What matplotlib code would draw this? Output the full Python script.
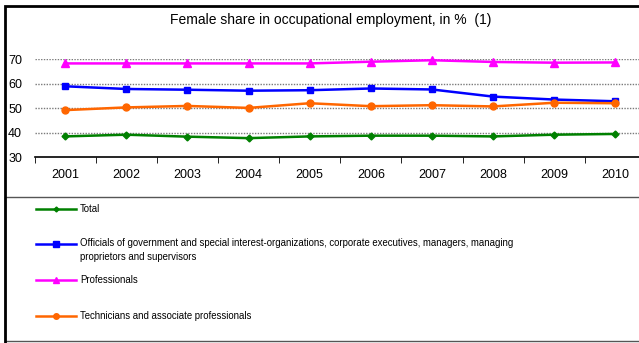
import numpy as np
import matplotlib
matplotlib.use('Agg')
import matplotlib.pyplot as plt
from matplotlib.lines import Line2D
from matplotlib.patches import Rectangle

plt.rcParams['font.family'] = ['Liberation Sans', 'DejaVu Sans']

# data
years = ['2001', '2002', '2003', '2004', '2005', '2006', '2007', '2008', '2009', '2010']
total = [38.5, 39.2, 38.4, 37.8, 38.5, 38.8, 38.8, 38.5, 39.2, 39.5]
officials = [58.9, 57.8, 57.5, 57.1, 57.3, 58.0, 57.6, 54.7, 53.5, 52.8]
professionals = [68.2, 68.2, 68.2, 68.2, 68.2, 68.9, 69.5, 68.8, 68.5, 68.6]
technicians = [49.2, 50.3, 50.9, 50.1, 52.0, 50.8, 51.2, 50.7, 52.2, 52.0]

labels = ['Total',
          'Officials of government and special interest-organizations, corporate executives, managers, managing\nproprietors and supervisors',
          'Professionals',
          'Technicians and associate professionals']
series = [total, officials, professionals, technicians]
colors = ['#008000', '#0000FF', '#FF00FF', '#FF6600']
markers = ['D', 's', '^', 'o']
msizes = [3.5, 5, 5.5, 5]
leg_ms = [2.5, 4, 4, 4]

W, H = 639, 343
fig = plt.figure(figsize=(W/100, H/100), dpi=100)

# plot area in pixel units
x0, x1 = 34.5, 646
ytop, ybot = 59, 157.3
ax = fig.add_axes([x0/W, 1 - ybot/H, (x1 - x0)/W, (ybot - ytop)/H])

x = np.arange(len(years))
for s, c, m, ms in zip(series, colors, markers, msizes):
    ax.plot(x, s, color=c, marker=m, markersize=ms, lw=1.8, clip_on=False, zorder=3)

ax.set_xlim(-0.5, len(years) - 0.5)
ax.set_ylim(30, 70)
ax.set_yticks([30, 40, 50, 60, 70])
ax.set_xticks(x)
ax.set_xticklabels(years)
ax.set_xticks(np.arange(-0.5, len(years)), minor=True)
ax.tick_params(axis='x', which='major', length=0, pad=8.5, labelsize=9)
ax.tick_params(axis='x', which='minor', length=4, direction='out', color='black')
ax.tick_params(axis='y', length=0, pad=9, labelsize=9)
for g in [40, 50, 60, 70]:
    ax.axhline(g, color='#7a7a7a', lw=1, ls=(0, (1, 1)), zorder=1)
for sp in ['left', 'right', 'top']:
    ax.spines[sp].set_visible(False)
ax.spines['bottom'].set_linewidth(1.2)

fig.text(331/W, 1 - 20/H, 'Female share in occupational employment, in %  (1)',
         ha='center', va='center', fontsize=10)

# legend drawn by hand
fig.patches.append(Rectangle((5/W, 1 - 341/H), 645/W, (341 - 197)/H,
                             transform=fig.transFigure, fill=False,
                             ec='#555555', lw=1))
leg_y = [209, 244, 280, 316]
for lab, c, m, ms, yy in zip(labels, colors, markers, leg_ms, leg_y):
    yf = 1 - yy/H
    fig.lines.append(Line2D([36/W, 76/W], [yf, yf], transform=fig.transFigure,
                            color=c, lw=1.8))
    fig.lines.append(Line2D([56/W], [yf], transform=fig.transFigure,
                            color=c, marker=m, markersize=ms))
    if '\n' in lab:
        fig.text(80/W, 1 - (yy - 6)/H, lab, ha='left', va='top', fontsize=6.9,
                 linespacing=1.55)
    else:
        fig.text(80/W, yf, lab, ha='left', va='center', fontsize=6.9)

# outer frame
fig.patches.append(Rectangle((5/W, -0.1), 1.0, 1 - 6/H + 0.1,
                             transform=fig.transFigure, fill=False,
                             ec='black', lw=2))

fig.savefig('out.png', dpi=100)
